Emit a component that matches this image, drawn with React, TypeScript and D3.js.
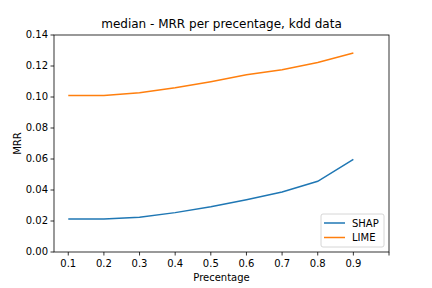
import React from 'react'
import * as d3 from 'd3'

// percentages on the x axis
const percentages = [0.1, 0.2, 0.3, 0.4, 0.5, 0.6, 0.7, 0.8, 0.9]
// median MRR per series
const shapValues = [0.0213, 0.0213, 0.0224, 0.0254, 0.0292, 0.0337, 0.0387, 0.0456, 0.0598]
const limeValues = [0.1009, 0.1009, 0.1028, 0.1059, 0.1099, 0.1144, 0.1176, 0.1222, 0.1284]
const xTicks = [0.1, 0.2, 0.3, 0.4, 0.5, 0.6, 0.7, 0.8, 0.9, 1.0]
const xTickLabels = ['0.1', '0.2', '0.3', '0.4', '0.5', '0.6', '0.7', '0.8', '0.9', '']
const yTicks = [0, 0.02, 0.04, 0.06, 0.08, 0.1, 0.12, 0.14]

const series = [
    { name: 'SHAP', values: shapValues, color: '#1f77b4' },
    { name: 'LIME', values: limeValues, color: '#ff7f0e' },
]

const App = () => {
    const width = 432
    const height = 288
    const left = 54
    const right = 389
    const top = 35
    const bottom = 252
    const font = 'DejaVu Sans, sans-serif'

    const x = d3.scaleLinear().domain([0.06, 1.0]).range([left, right])
    const y = d3.scaleLinear().domain([0, 0.14]).range([bottom, top])

    const line = d3
        .line<number>()
        .x((_, i) => x(percentages[i]))
        .y((d) => y(d))

    return (
        <svg width={width} height={height} style={{ position: 'absolute', left: 0, top: 0, background: '#fff' }} fontFamily={font}>
            <rect x={0} y={0} width={width} height={height} fill='#fff' />
            {/* lines */}
            {series.map((s) => (
                <path key={s.name} d={line(s.values) || ''} fill='none' stroke={s.color} strokeWidth={1.5} />
            ))}
            {/* frame */}
            <rect x={left} y={top} width={right - left} height={bottom - top} fill='none' stroke='#000' strokeWidth={0.8} />
            {/* x axis */}
            {xTicks.map((t, i) => (
                <g key={'x' + i} transform={`translate(${x(t)},${bottom})`}>
                    <line y1={0} y2={3.5} stroke='#000' strokeWidth={0.8} />
                    <text y={15} textAnchor='middle' fontSize={10} fill='#000'>{xTickLabels[i]}</text>
                </g>
            ))}
            {/* y axis */}
            {yTicks.map((t) => (
                <g key={'y' + t} transform={`translate(${left},${y(t)})`}>
                    <line x1={0} x2={-3.5} stroke='#000' strokeWidth={0.8} />
                    <text x={-6} dy='0.32em' textAnchor='end' fontSize={10} fill='#000'>{t.toFixed(2)}</text>
                </g>
            ))}
            <text x={(left + right) / 2} y={281} textAnchor='middle' fontSize={10} fill='#000'>Precentage</text>
            <text transform={`translate(21,${(top + bottom) / 2}) rotate(-90)`} textAnchor='middle' fontSize={10} fill='#000'>MRR</text>
            <text x={(left + right) / 2} y={28} textAnchor='middle' fontSize={12} fill='#000'>median - MRR per precentage, kdd data</text>
            {/* legend */}
            <g transform='translate(321,214)'>
                <rect x={0} y={0} width={63} height={33} rx={2} fill='#fff' fillOpacity={0.8} stroke='#ccc' strokeWidth={0.8} />
                {series.map((s, i) => (
                    <g key={s.name} transform={`translate(0,${9 + i * 14.5})`}>
                        <line x1={3} x2={24} stroke={s.color} strokeWidth={1.5} />
                        <text x={31} dy='0.35em' fontSize={10} fill='#000'>{s.name}</text>
                    </g>
                ))}
            </g>
        </svg>
    )
}

export default App
